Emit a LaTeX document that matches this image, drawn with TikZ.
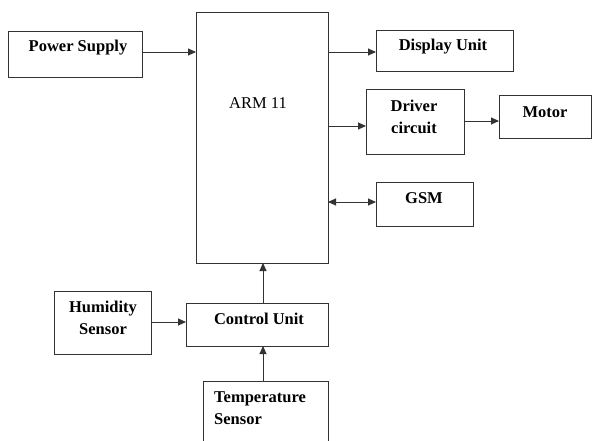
\documentclass[tikz,border=0pt]{standalone}
\usepackage{fontspec}
\setmainfont{Liberation Serif}
\usetikzlibrary{arrows.meta}
\begin{document}
\begin{tikzpicture}[x=1pt,y=-1pt,
  box/.style={draw=black!80,line width=0.9pt,inner sep=0pt,outer sep=0pt},
  lbl/.style={font=\fontsize{16.5}{22}\selectfont\bfseries,inner sep=0pt,align=center},
  arr/.style={draw=black!80,line width=0.9pt,-{Triangle[length=8pt,width=7pt]}},
  darr/.style={draw=black!80,line width=0.9pt,{Triangle[length=8pt,width=7pt]}-{Triangle[length=8pt,width=7pt]}}]
\useasboundingbox (0,0) rectangle (592,441);
\clip (0,0) rectangle (592,441);
% boxes
\node[box,minimum width=134pt,minimum height=46pt] (ps) at (75,54) {};
\node[box,minimum width=132pt,minimum height=251pt] (arm) at (262,137.5) {};
\node[box,minimum width=137pt,minimum height=41pt] (disp) at (444.5,50.5) {};
\node[box,minimum width=98pt,minimum height=65pt] (drv) at (415,121.5) {};
\node[box,minimum width=92pt,minimum height=43pt] (mot) at (545,116.5) {};
\node[box,minimum width=97pt,minimum height=44pt] (gsm) at (424.5,204) {};
\node[box,minimum width=142pt,minimum height=43pt] (ctl) at (257,324.5) {};
\node[box,minimum width=97pt,minimum height=63pt] (hum) at (102.5,322.5) {};
\node[box,minimum width=125pt,minimum height=80pt] (tmp) at (265.5,421) {};
% labels
\node[lbl] (tps) at (78,48) {Power Supply};
\node[lbl,font=\fontsize{16.5}{22}\selectfont] (tarm) at (258,103) {ARM 11};
\node[lbl] (tdisp) at (443,47) {Display Unit};
\node[lbl] (tdrv) at (414,117) {Driver\\circuit};
\node[lbl] (tmot) at (545,112) {Motor};
\node[lbl] (tgsm) at (424,198) {GSM};
\node[lbl] (tctl) at (259,319) {Control Unit};
\node[lbl] (thum) at (103,318) {Humidity\\Sensor};
\node[lbl,align=left,anchor=west] (ttmp) at (214,408) {Temperature\\Sensor};
% connectors
\draw[arr] (ps.east |- 0,52) -- (arm.west |- 0,52);
\draw[arr] (arm.east |- 0,52) -- (disp.west |- 0,52);
\draw[arr] (arm.east |- 0,126) -- (drv.west |- 0,126);
\draw[arr] (drv.east |- 0,121) -- (mot.west |- 0,121);
\draw[darr] (arm.east |- 0,202) -- (gsm.west |- 0,202);
\draw[arr] (ctl.north -| 263,0) -- (arm.south -| 263,0);
\draw[arr] (hum.east |- 0,322) -- (ctl.west |- 0,322);
\draw[arr] (tmp.north -| 263,0) -- (ctl.south -| 263,0);
\end{tikzpicture}
\end{document}
